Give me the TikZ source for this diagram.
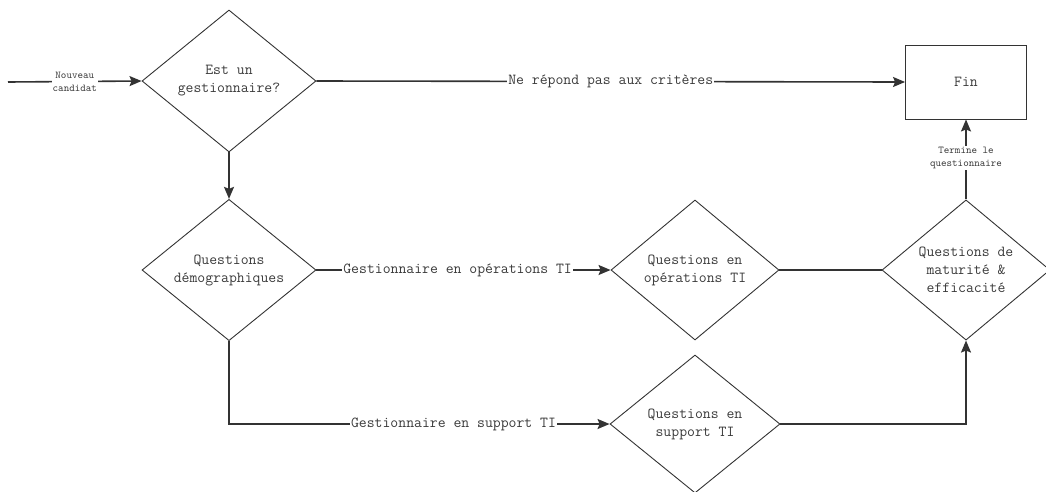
\documentclass[tikz,border=0pt]{standalone}
\usetikzlibrary{shapes.geometric,arrows.meta}
\definecolor{ink}{HTML}{333333}
\definecolor{txt}{HTML}{3A3A3A}
\tikzset{
  decision/.style={diamond, draw=ink, line width=0.9pt, align=center, inner sep=0pt,
    font=\ttfamily\fontsize{15.3}{18}\selectfont, text=txt},
  endbox/.style={rectangle, draw=ink, line width=0.9pt, font=\ttfamily\fontsize{15.3}{18}\selectfont, text=txt},
  flow/.style={draw=ink, line width=1.6pt, -{Stealth[length=12pt,width=10pt,inset=2pt]}},
  plain/.style={draw=ink, line width=1.6pt},
  lbl/.style={fill=white, inner sep=1pt, text=txt, font=\ttfamily\fontsize{15.3}{18}\selectfont},
  small/.style={fill=white, inner sep=1pt, align=center, text=txt, font=\ttfamily\fontsize{10.5}{13}\selectfont}
}
\begin{document}
\begin{tikzpicture}[x=1pt,y=-1pt]
\useasboundingbox (0,0) rectangle (1046,491);

% decisions and end box
\node[decision, minimum width=174pt, minimum height=142pt] (gest) at (229,81) {Est un\\gestionnaire?};
\node[decision, minimum width=174pt, minimum height=140pt] (demo) at (229,270) {Questions\\démographiques};
\node[decision, minimum width=168pt, minimum height=140pt] (ops) at (695,270) {Questions en\\opérations TI};
\node[decision, minimum width=170pt, minimum height=138pt] (sup) at (695,424) {Questions en\\support TI};
\node[decision, minimum width=168pt, minimum height=140pt] (mat) at (966,270) {Questions de\\maturité \&\\efficacité};
\node[endbox, minimum width=121pt, minimum height=74pt] (fin) at (966,82) {Fin};

\coordinate (start) at (8,82);
\coordinate (bendA) at (229,424);
\coordinate (bendB) at (966,424);

% connectors
\draw[flow] (start) -- node[small, pos=0.5] {Nouveau\\candidat} (gest.west);
\draw[flow] (gest.east) -- node[lbl, pos=0.5] {Ne répond pas aux critères} (fin.west);
\draw[flow] (gest.south) -- (demo.north);
\draw[flow] (demo.east) -- node[lbl, pos=0.48] {Gestionnaire en opérations TI} (ops.west);
\draw[plain] (ops.east) -- (mat.west);
\draw[flow] (demo.south) -- (bendA) -- node[lbl, pos=0.59] {Gestionnaire en support TI} (sup.west);
\draw[flow] (sup.east) -- (bendB) -- (mat.south);
\draw[flow] (mat.north) -- node[small, pos=0.52] {Termine le\\questionnaire} (fin.south);
\end{tikzpicture}
\end{document}
